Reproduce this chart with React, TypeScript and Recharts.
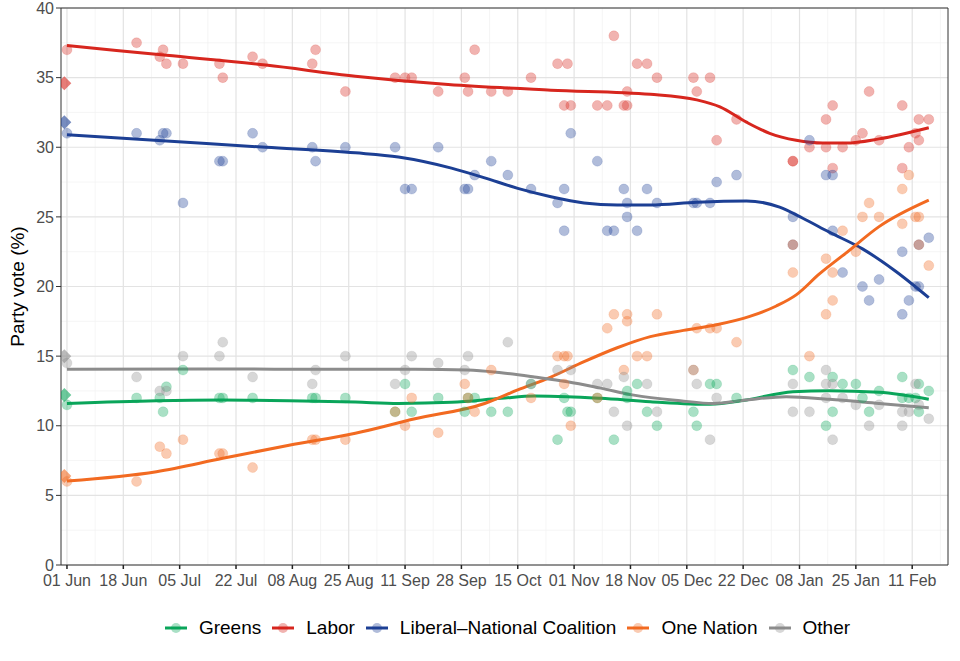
import React from 'react';
import {
  ComposedChart,
  Scatter,
  Line,
  XAxis,
  YAxis,
  CartesianGrid,
  ReferenceArea,
  Legend,
} from 'recharts';

// days counted from 01 Jun
const tickDays = [0, 17, 34, 51, 68, 85, 102, 119, 136, 153, 170, 187, 204, 221, 238, 255];
const tickLabels = [
  '01 Jun', '18 Jun', '05 Jul', '22 Jul', '08 Aug', '25 Aug', '11 Sep', '28 Sep',
  '15 Oct', '01 Nov', '18 Nov', '05 Dec', '22 Dec', '08 Jan', '25 Jan', '11 Feb',
];
const yTicks = [0, 5, 10, 15, 20, 25, 30, 35, 40];

const parties = ['Greens', 'Labor', 'Liberal–National Coalition', 'One Nation', 'Other'];
const partyColors = ['#0aa55a', '#d7261e', '#1c3f94', '#f26a21', '#8c8c8c'];

// election result (day, value)
const electionDay = -0.8;
const electionResult = [12.2, 34.6, 31.8, 6.4, 15.0];

// polls: [day, value]
const greensPolls = [
  [0, 11.5], [21, 12], [28, 12], [29, 11], [30, 12.8], [35, 14], [46, 12], [47, 12], [56, 12],
  [74, 12], [75, 12], [84, 12], [99, 11], [102, 13], [104, 11], [112, 12], [120, 11], [121, 12],
  [123, 12], [128, 11], [133, 11], [140, 13], [148, 9], [150, 12], [151, 11], [152, 11], [160, 12],
  [165, 9], [169, 12.5], [169, 12], [172, 13], [175, 11], [178, 10], [189, 11], [190, 10], [194, 13],
  [196, 13], [202, 12], [219, 14], [224, 13.5], [229, 10], [231, 13.5], [231, 11], [234, 13],
  [238, 13], [240, 12], [242, 11], [245, 12.5], [252, 13.5], [252, 12], [254, 12], [256, 12],
  [257, 13], [257, 11], [260, 12.5],
];
const laborPolls = [
  [0, 37], [21, 37.5], [28, 36.5], [29, 37], [30, 36], [35, 36], [46, 36], [47, 35], [56, 36.5],
  [59, 36], [74, 36], [75, 37], [84, 34], [99, 35], [102, 35], [104, 35], [112, 34], [120, 35],
  [121, 34], [123, 37], [128, 34], [133, 34], [140, 35], [148, 36], [150, 33], [151, 36], [152, 33],
  [160, 33], [163, 33], [165, 38], [168, 33], [169, 33], [169, 34], [172, 36], [175, 36], [178, 35],
  [189, 35], [190, 34], [194, 35], [196, 30.5], [202, 32], [219, 29], [219, 29], [224, 30],
  [229, 30], [229, 32], [231, 33], [231, 28.5], [234, 30], [238, 30.5], [240, 31], [242, 34],
  [245, 30.5], [252, 33], [252, 28.5], [254, 30], [256, 31], [257, 30.5], [257, 32], [260, 32],
];
const coalitionPolls = [
  [0, 31], [21, 31], [28, 30.5], [29, 31], [30, 31], [35, 26], [46, 29], [47, 29], [56, 31],
  [59, 30], [74, 30], [75, 29], [84, 30], [99, 30], [102, 27], [104, 27], [112, 30], [120, 27],
  [121, 27], [123, 28], [128, 29], [133, 28], [140, 27], [148, 26], [150, 27], [150, 24], [152, 31],
  [160, 29], [163, 24], [165, 24], [168, 27], [169, 26], [169, 25], [172, 24], [175, 27], [178, 26],
  [189, 26], [190, 26], [194, 26], [196, 27.5], [202, 28], [219, 25], [219, 23], [224, 30.5],
  [229, 28], [231, 28], [231, 24], [234, 21], [240, 20], [242, 19], [245, 20.5], [252, 22.5],
  [252, 18], [254, 19], [256, 20], [257, 20], [257, 23], [260, 23.5],
];
const oneNationPolls = [
  [0, 6], [21, 6], [28, 8.5], [30, 8], [35, 9], [46, 8], [47, 8], [56, 7], [74, 9], [75, 9],
  [84, 9], [99, 11], [102, 10], [104, 12], [112, 9.5], [120, 13], [121, 12], [123, 11], [128, 14],
  [140, 12], [148, 15], [150, 15], [151, 15], [150, 13], [152, 10], [160, 12], [163, 17], [165, 18],
  [168, 14], [169, 18], [169, 17.5], [172, 15], [175, 15], [178, 18], [189, 14], [190, 17],
  [194, 17], [196, 17], [202, 16], [219, 21], [219, 23], [224, 15], [229, 22], [229, 18], [231, 21],
  [231, 19], [234, 24], [238, 22.5], [240, 25], [242, 26], [245, 25], [252, 27], [252, 24.5],
  [254, 28], [256, 25], [257, 25], [257, 23], [260, 21.5],
];
const otherPolls = [
  [0, 14.5], [21, 13.5], [28, 12.5], [30, 12.5], [35, 15], [46, 15], [47, 16], [56, 13.5],
  [74, 13], [75, 14], [84, 15], [99, 13], [102, 14], [104, 15], [112, 14.5], [120, 14], [121, 15],
  [133, 16], [140, 13], [148, 14], [152, 14], [160, 13], [163, 13], [165, 11], [168, 13.5],
  [169, 10], [175, 13], [178, 11], [189, 14], [190, 13], [194, 9], [196, 12], [219, 13], [219, 11],
  [224, 11], [229, 14], [229, 13], [229, 12], [231, 13], [231, 9], [234, 12], [238, 11.5],
  [242, 10], [245, 11.5], [252, 11], [252, 10], [254, 11], [256, 13], [257, 11.5], [260, 10.5],
];

// smoothed trends: [day, value]
const greensTrend = [
  [0, 11.6], [27, 11.8], [47, 11.85], [67, 11.8], [87, 11.7], [100, 11.6], [116, 11.68],
  [131, 11.97], [141, 12.14], [151, 12.09], [161, 11.97], [176, 11.73], [194, 11.54], [205, 11.85],
  [219, 12.45], [230, 12.52], [245, 12.4], [260, 11.9],
];
const laborTrend = [
  [0, 37.3], [30, 36.6], [60, 35.9], [87, 35.1], [115, 34.5], [146, 34.1], [176, 33.8], [190, 33.4],
  [197, 32.9], [205, 31.8], [212, 31.0], [220, 30.5], [228, 30.3], [235, 30.3], [245, 30.6],
  [260, 31.4],
];
const coalitionTrend = [
  [0, 30.9], [30, 30.45], [60, 30.0], [87, 29.6], [100, 29.3], [116, 28.5], [126, 27.8],
  [136, 27.05], [146, 26.45], [156, 26.0], [166, 25.85], [176, 25.85], [190, 26.05], [205, 26.14],
  [215, 25.7], [222, 24.9], [230, 23.9], [240, 22.7], [250, 21.1], [260, 19.2],
];
const oneNationTrend = [
  [0, 6.03], [27, 6.7], [47, 7.66], [67, 8.6], [87, 9.46], [105, 10.5], [126, 11.6], [136, 12.57],
  [146, 13.5], [156, 14.6], [166, 15.6], [176, 16.4], [186, 16.85], [196, 17.25], [206, 17.85],
  [214, 18.6], [220, 19.4], [227, 20.9], [235, 22.4], [245, 24.3], [260, 26.2],
];
const otherTrend = [
  [0, 14.05], [40, 14.08], [85, 14.05], [105, 14.05], [121, 14.0], [131, 13.8], [141, 13.5],
  [151, 13.16], [161, 12.7], [171, 12.2], [185, 11.8], [195, 11.6], [205, 11.85], [217, 12.09],
  [230, 11.9], [245, 11.6], [260, 11.3],
];

const pollSets = [greensPolls, laborPolls, coalitionPolls, oneNationPolls, otherPolls];
const trendSets = [greensTrend, laborTrend, coalitionTrend, oneNationTrend, otherTrend];

const toXY = (rows: number[][]) => rows.map(([x, y]) => ({ x, y }));

const FONT = '"Liberation Sans", Arial, Helvetica, sans-serif';
const xDomain: [number, number] = [-1.8, 265.8];

const minorX = tickDays.slice(0, -1).map((d, i) => (d + tickDays[i + 1]) / 2)
  .concat([tickDays[tickDays.length - 1] + 8.5]);
const minorY = yTicks.slice(0, -1).map((v) => v + 2.5);

const dotShape = (color: string) => (props: any) => (
  <circle
    cx={props.cx}
    cy={props.cy}
    r={5}
    fill={color}
    fillOpacity={0.35}
    stroke={color}
    strokeOpacity={0.15}
  />
);

const diamondShape = (color: string) => (props: any) => {
  const { cx, cy } = props;
  const s = 7;
  return (
    <path
      d={`M${cx},${cy - s}L${cx + s},${cy}L${cx},${cy + s}L${cx - s},${cy}Z`}
      fill={color}
      fillOpacity={0.6}
    />
  );
};

const YLabel = (props: any) => {
  const vb = props.viewBox || {};
  const cx = (vb.x || 0) + 17;
  const cy = (vb.y || 0) + (vb.height || 0) / 2;
  return (
    <text
      x={cx}
      y={cy}
      transform={`rotate(-90 ${cx} ${cy})`}
      textAnchor="middle"
      dominantBaseline="central"
      fontSize={19}
      fill="#000"
      fontFamily={FONT}
    >
      Party vote (%)
    </text>
  );
};

const LegendContent = () => (
  <div
    style={{
      height: 30,
      display: 'flex',
      justifyContent: 'center',
      alignItems: 'center',
      paddingLeft: 66,
      fontFamily: FONT,
      fontSize: 19,
      color: '#000',
    }}
  >
    {parties.map((p, i) => (
      <div key={p} style={{ display: 'flex', alignItems: 'center', marginRight: 11 }}>
        <svg width={22} height={14} style={{ marginRight: 12 }}>
          <line x1={0} y1={7} x2={22} y2={7} stroke={partyColors[i]} strokeWidth={3} />
          <circle cx={11} cy={7} r={5} fill={partyColors[i]} fillOpacity={0.35} />
        </svg>
        <span>{p}</span>
      </div>
    ))}
  </div>
);

export default function App() {
  return (
    <div style={{ position: 'absolute', left: 0, top: 0, fontFamily: FONT }}>
      <ComposedChart
        width={960}
        height={661}
        margin={{ top: 8, right: 12, left: 0, bottom: 18 }}
      >
        <CartesianGrid
          stroke="#f0f0f0"
          strokeWidth={0.7}
          horizontalValues={minorY}
          verticalValues={minorX}
        />
        <CartesianGrid
          stroke="#e3e3e3"
          strokeWidth={1.2}
          horizontalValues={yTicks}
          verticalValues={tickDays}
        />
        <XAxis
          type="number"
          dataKey="x"
          domain={xDomain}
          allowDataOverflow
          ticks={tickDays}
          interval={0}
          tickFormatter={(v: number) => tickLabels[tickDays.indexOf(v)] ?? ''}
          tick={{ fill: '#4d4d4d', fontSize: 16 }}
          tickLine={{ stroke: '#222', strokeWidth: 1.5 }}
          tickSize={4}
          tickMargin={6}
          axisLine={false}
          height={48}
        />
        <YAxis
          type="number"
          dataKey="y"
          domain={[0, 40]}
          ticks={yTicks}
          interval={0}
          tick={{ fill: '#4d4d4d', fontSize: 16 }}
          tickLine={{ stroke: '#333' }}
          tickSize={5}
          tickMargin={2}
          axisLine={false}
          width={61}
          label={<YLabel />}
        />
        <ReferenceArea
          x1={xDomain[0]}
          x2={xDomain[1]}
          y1={0}
          y2={40}
          fill="none"
          stroke="#333"
          strokeWidth={1}
          ifOverflow="visible"
        />
        {pollSets.map((rows, i) => (
          <Scatter
            key={'p' + i}
            data={toXY(rows)}
            dataKey="y"
            legendType="none"
            shape={dotShape(partyColors[i])}
            isAnimationActive={false}
          />
        ))}
        {electionResult.map((v, i) => (
          <Scatter
            key={'e' + i}
            data={[{ x: electionDay, y: v }]}
            dataKey="y"
            legendType="none"
            shape={diamondShape(partyColors[i])}
            isAnimationActive={false}
          />
        ))}
        {trendSets.map((rows, i) => (
          <Line
            key={'t' + i}
            name={parties[i]}
            data={toXY(rows)}
            dataKey="y"
            type="monotone"
            stroke={partyColors[i]}
            strokeWidth={3}
            dot={false}
            activeDot={false}
            isAnimationActive={false}
          />
        ))}
        <Legend
          verticalAlign="bottom"
          content={<LegendContent />}
          wrapperStyle={{ left: 0, width: 960 }}
        />
      </ComposedChart>
    </div>
  );
}
